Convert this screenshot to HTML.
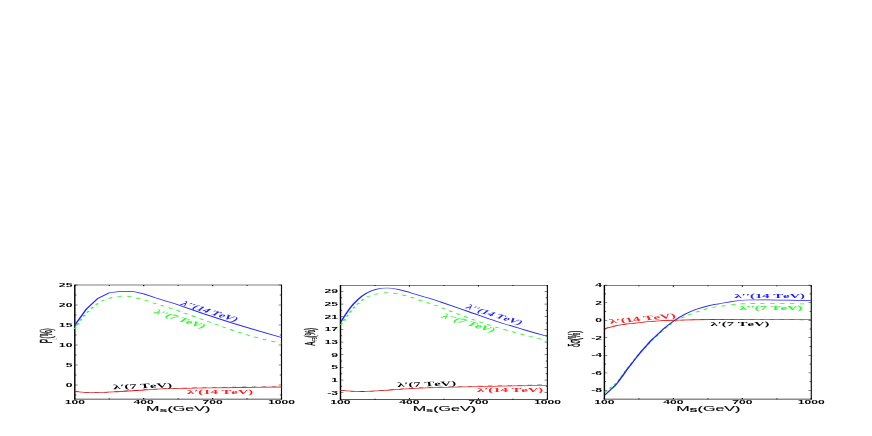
<!DOCTYPE html>
<html><head><meta charset="utf-8"><title>chart</title>
<style>
html,body{margin:0;padding:0;background:#fff;}
body{width:872px;height:436px;overflow:hidden;font-family:"Liberation Sans",sans-serif;}
svg{display:block;}
</style></head><body>
<svg width="872" height="436" viewBox="0 0 872 436">
<rect width="872" height="436" fill="#fff"/>
<defs><filter id="b" filterUnits="userSpaceOnUse" x="0" y="0" width="872" height="436"><feGaussianBlur stdDeviation="0.45"/></filter></defs><g filter="url(#b)"><g transform="scale(2.3,1)">
<line x1="32.52" y1="285.00" x2="122.39" y2="285.00" stroke="#000" stroke-width="0.55"/>
<line x1="32.52" y1="399.15" x2="122.39" y2="399.15" stroke="#1a1a1a" stroke-width="0.60"/>
<line x1="32.52" y1="284.70" x2="32.52" y2="399.70" stroke="#000" stroke-width="0.62"/>
<line x1="122.39" y1="284.70" x2="122.39" y2="399.70" stroke="#111" stroke-width="0.50"/>
<line x1="32.52" y1="285.00" x2="32.52" y2="286.30" stroke="#000" stroke-width="0.50"/>
<line x1="32.52" y1="399.30" x2="32.52" y2="398.00" stroke="#000" stroke-width="0.50"/>
<line x1="47.50" y1="285.00" x2="47.50" y2="285.80" stroke="#000" stroke-width="0.50"/>
<line x1="47.50" y1="399.30" x2="47.50" y2="398.50" stroke="#000" stroke-width="0.50"/>
<line x1="62.48" y1="285.00" x2="62.48" y2="286.30" stroke="#000" stroke-width="0.50"/>
<line x1="62.48" y1="399.30" x2="62.48" y2="398.00" stroke="#000" stroke-width="0.50"/>
<line x1="77.46" y1="285.00" x2="77.46" y2="285.80" stroke="#000" stroke-width="0.50"/>
<line x1="77.46" y1="399.30" x2="77.46" y2="398.50" stroke="#000" stroke-width="0.50"/>
<line x1="92.43" y1="285.00" x2="92.43" y2="286.30" stroke="#000" stroke-width="0.50"/>
<line x1="92.43" y1="399.30" x2="92.43" y2="398.00" stroke="#000" stroke-width="0.50"/>
<line x1="107.41" y1="285.00" x2="107.41" y2="285.80" stroke="#000" stroke-width="0.50"/>
<line x1="107.41" y1="399.30" x2="107.41" y2="398.50" stroke="#000" stroke-width="0.50"/>
<line x1="122.39" y1="285.00" x2="122.39" y2="286.30" stroke="#000" stroke-width="0.50"/>
<line x1="122.39" y1="399.30" x2="122.39" y2="398.00" stroke="#000" stroke-width="0.50"/>
<text transform="translate(32.52,403.90) scale(1.000,1.000) rotate(0.00)" style="font-kerning:none" text-anchor="middle" font-family="Liberation Sans" font-weight="bold" font-size="5.30" fill="#000">100</text>
<text transform="translate(62.48,403.90) scale(1.000,1.000) rotate(0.00)" style="font-kerning:none" text-anchor="middle" font-family="Liberation Sans" font-weight="bold" font-size="5.30" fill="#000">400</text>
<text transform="translate(92.43,403.90) scale(1.000,1.000) rotate(0.00)" style="font-kerning:none" text-anchor="middle" font-family="Liberation Sans" font-weight="bold" font-size="5.30" fill="#000">700</text>
<text transform="translate(122.39,403.90) scale(1.000,1.000) rotate(0.00)" style="font-kerning:none" text-anchor="middle" font-family="Liberation Sans" font-weight="bold" font-size="5.30" fill="#000">1000</text>
<line x1="32.52" y1="285.00" x2="33.78" y2="285.00" stroke="#000" stroke-width="0.45"/>
<line x1="122.39" y1="285.00" x2="121.13" y2="285.00" stroke="#000" stroke-width="0.45"/>
<text transform="translate(31.48,287.00) scale(1.000,1.000) rotate(0.00)" style="font-kerning:none" text-anchor="end" font-family="Liberation Sans" font-weight="bold" font-size="5.30" fill="#000">25</text>
<line x1="32.52" y1="305.00" x2="33.78" y2="305.00" stroke="#000" stroke-width="0.45"/>
<line x1="122.39" y1="305.00" x2="121.13" y2="305.00" stroke="#000" stroke-width="0.45"/>
<text transform="translate(31.48,307.00) scale(1.000,1.000) rotate(0.00)" style="font-kerning:none" text-anchor="end" font-family="Liberation Sans" font-weight="bold" font-size="5.30" fill="#000">20</text>
<line x1="32.52" y1="325.00" x2="33.78" y2="325.00" stroke="#000" stroke-width="0.45"/>
<line x1="122.39" y1="325.00" x2="121.13" y2="325.00" stroke="#000" stroke-width="0.45"/>
<text transform="translate(31.48,327.00) scale(1.000,1.000) rotate(0.00)" style="font-kerning:none" text-anchor="end" font-family="Liberation Sans" font-weight="bold" font-size="5.30" fill="#000">15</text>
<line x1="32.52" y1="345.00" x2="33.78" y2="345.00" stroke="#000" stroke-width="0.45"/>
<line x1="122.39" y1="345.00" x2="121.13" y2="345.00" stroke="#000" stroke-width="0.45"/>
<text transform="translate(31.48,347.00) scale(1.000,1.000) rotate(0.00)" style="font-kerning:none" text-anchor="end" font-family="Liberation Sans" font-weight="bold" font-size="5.30" fill="#000">10</text>
<line x1="32.52" y1="365.00" x2="33.78" y2="365.00" stroke="#000" stroke-width="0.45"/>
<line x1="122.39" y1="365.00" x2="121.13" y2="365.00" stroke="#000" stroke-width="0.45"/>
<text transform="translate(31.48,367.00) scale(1.000,1.000) rotate(0.00)" style="font-kerning:none" text-anchor="end" font-family="Liberation Sans" font-weight="bold" font-size="5.30" fill="#000">5</text>
<line x1="32.52" y1="385.00" x2="33.78" y2="385.00" stroke="#000" stroke-width="0.45"/>
<line x1="122.39" y1="385.00" x2="121.13" y2="385.00" stroke="#000" stroke-width="0.45"/>
<text transform="translate(31.48,387.00) scale(1.000,1.000) rotate(0.00)" style="font-kerning:none" text-anchor="end" font-family="Liberation Sans" font-weight="bold" font-size="5.30" fill="#000">0</text>
<line x1="32.52" y1="295.00" x2="33.26" y2="295.00" stroke="#000" stroke-width="0.40"/>
<line x1="122.39" y1="295.00" x2="121.65" y2="295.00" stroke="#000" stroke-width="0.40"/>
<line x1="32.52" y1="315.00" x2="33.26" y2="315.00" stroke="#000" stroke-width="0.40"/>
<line x1="122.39" y1="315.00" x2="121.65" y2="315.00" stroke="#000" stroke-width="0.40"/>
<line x1="32.52" y1="335.00" x2="33.26" y2="335.00" stroke="#000" stroke-width="0.40"/>
<line x1="122.39" y1="335.00" x2="121.65" y2="335.00" stroke="#000" stroke-width="0.40"/>
<line x1="32.52" y1="355.00" x2="33.26" y2="355.00" stroke="#000" stroke-width="0.40"/>
<line x1="122.39" y1="355.00" x2="121.65" y2="355.00" stroke="#000" stroke-width="0.40"/>
<line x1="32.52" y1="375.00" x2="33.26" y2="375.00" stroke="#000" stroke-width="0.40"/>
<line x1="122.39" y1="375.00" x2="121.65" y2="375.00" stroke="#000" stroke-width="0.40"/>
<line x1="32.52" y1="395.00" x2="33.26" y2="395.00" stroke="#000" stroke-width="0.40"/>
<line x1="122.39" y1="395.00" x2="121.65" y2="395.00" stroke="#000" stroke-width="0.40"/>
<path d="M32.52,329.00 C33.17,326.83 34.79,320.23 36.43,316.00 C38.08,311.77 40.50,306.58 42.39,303.60 C44.28,300.62 45.93,299.37 47.78,298.10 C49.63,296.83 51.78,296.12 53.48,296.00 C55.17,295.88 56.51,296.82 57.96,297.40 C59.41,297.98 60.57,298.47 62.17,299.50 C63.78,300.53 65.87,302.35 67.57,303.60 C69.26,304.85 70.72,305.83 72.35,307.00 C73.97,308.17 75.78,309.42 77.30,310.60 C78.83,311.78 78.99,312.03 81.48,314.10 C83.97,316.17 89.22,320.48 92.26,323.00 C95.30,325.52 97.25,327.25 99.74,329.20 C102.23,331.15 104.67,332.97 107.22,334.70 C109.76,336.43 112.47,338.18 115.00,339.60 C117.53,341.02 121.16,342.60 122.39,343.20" fill="none" stroke="#22ff22" stroke-width="0.78" stroke-dasharray="1.9 2.4"/>
<path d="M32.52,325.20 L37.52,309.10 L42.52,298.40 L47.52,292.70 L52.52,291.30 L57.52,291.30 L62.52,293.90 L67.57,297.80 L72.35,301.20 L76.09,303.80 L88.04,313.40 L100.00,322.40 L112.00,330.60 L122.39,337.50" fill="none" stroke="#2222ff" stroke-width="0.72"/>
<path d="M32.52,391.50 C34.07,391.70 38.53,392.70 41.83,392.70 C45.12,392.70 48.82,391.95 52.30,391.50 C55.79,391.05 59.14,390.47 62.74,390.00 C66.34,389.53 69.01,389.05 73.91,388.70 C78.82,388.35 84.09,388.18 92.17,387.90 C100.25,387.62 117.36,387.15 122.39,387.00" fill="none" stroke="#ff2020" stroke-width="0.80"/>
<path d="M32.52,391.50 C34.07,391.69 38.53,392.65 41.83,392.62 C45.12,392.59 48.82,391.81 52.30,391.33 C55.79,390.86 59.14,390.24 62.74,389.75 C66.34,389.25 69.01,388.75 73.91,388.35 C78.82,387.96 84.09,387.75 92.17,387.40 C100.25,387.05 117.36,386.44 122.39,386.25" fill="none" stroke="#000" stroke-width="0.50" stroke-dasharray="1.9 2.4" stroke-opacity="0.55"/>
<text transform="translate(78.04,304.40) scale(0.910,1.000) rotate(33.70)" style="font-kerning:none" text-anchor="start" font-family="Liberation Serif" font-weight="bold" font-size="6.60" fill="#2222ff">λ′′(14 TeV)</text>
<text transform="translate(66.26,313.00) scale(0.910,1.000) rotate(33.00)" style="font-kerning:none" text-anchor="start" font-family="Liberation Serif" font-weight="bold" font-size="6.60" fill="#22ff22">λ′′(7 TeV)</text>
<text transform="translate(49.35,389.20) scale(0.965,1.000) rotate(-4.20)" style="font-kerning:none" text-anchor="start" font-family="Liberation Serif" font-weight="bold" font-size="6.60" fill="#000">λ′(7 TeV)</text>
<text transform="translate(81.30,393.60) scale(0.965,1.000) rotate(0.00)" style="font-kerning:none" text-anchor="start" font-family="Liberation Serif" font-weight="bold" font-size="6.60" fill="#ff2020">λ′(14 TeV)</text>
<text transform="translate(77.48,411.20) scale(1.000,1.000) rotate(0.00)" style="font-kerning:none" text-anchor="middle" font-family="Liberation Sans" font-weight="normal" font-size="7.00" fill="#000" stroke="#000" stroke-width="0.12">M<tspan font-size="6.2" dy="1.0" font-weight="bold">s</tspan><tspan dy="-1.0">(GeV)</tspan></text>
<text transform="translate(22.61,343.30) scale(1.130,1.000) rotate(-90.00)" style="font-kerning:none" text-anchor="start" font-family="Liberation Sans" font-weight="normal" font-size="6.50" fill="#000" stroke="#000" stroke-width="0.18">P</text>
<text transform="translate(22.61,338.60) scale(1.100,1.000) rotate(-90.00)" style="font-kerning:none" text-anchor="start" font-family="Liberation Sans" font-weight="normal" font-size="6.70" fill="#000" stroke="#000" stroke-width="0.18">(%)</text>
<text transform="translate(24.61,339.80) scale(1.000,1.000) rotate(-90.00)" style="font-kerning:none" text-anchor="start" font-family="Liberation Sans" font-weight="normal" font-size="3.20" fill="#999">L</text>
<line x1="148.04" y1="285.30" x2="238.00" y2="285.30" stroke="#000" stroke-width="0.55"/>
<line x1="148.04" y1="399.35" x2="238.00" y2="399.35" stroke="#1a1a1a" stroke-width="0.60"/>
<line x1="148.04" y1="285.00" x2="148.04" y2="399.90" stroke="#000" stroke-width="0.62"/>
<line x1="238.00" y1="285.00" x2="238.00" y2="399.90" stroke="#111" stroke-width="0.50"/>
<line x1="148.04" y1="285.30" x2="148.04" y2="286.60" stroke="#000" stroke-width="0.50"/>
<line x1="148.04" y1="399.50" x2="148.04" y2="398.20" stroke="#000" stroke-width="0.50"/>
<line x1="163.04" y1="285.30" x2="163.04" y2="286.10" stroke="#000" stroke-width="0.50"/>
<line x1="163.04" y1="399.50" x2="163.04" y2="398.70" stroke="#000" stroke-width="0.50"/>
<line x1="178.03" y1="285.30" x2="178.03" y2="286.60" stroke="#000" stroke-width="0.50"/>
<line x1="178.03" y1="399.50" x2="178.03" y2="398.20" stroke="#000" stroke-width="0.50"/>
<line x1="193.02" y1="285.30" x2="193.02" y2="286.10" stroke="#000" stroke-width="0.50"/>
<line x1="193.02" y1="399.50" x2="193.02" y2="398.70" stroke="#000" stroke-width="0.50"/>
<line x1="208.01" y1="285.30" x2="208.01" y2="286.60" stroke="#000" stroke-width="0.50"/>
<line x1="208.01" y1="399.50" x2="208.01" y2="398.20" stroke="#000" stroke-width="0.50"/>
<line x1="223.01" y1="285.30" x2="223.01" y2="286.10" stroke="#000" stroke-width="0.50"/>
<line x1="223.01" y1="399.50" x2="223.01" y2="398.70" stroke="#000" stroke-width="0.50"/>
<line x1="238.00" y1="285.30" x2="238.00" y2="286.60" stroke="#000" stroke-width="0.50"/>
<line x1="238.00" y1="399.50" x2="238.00" y2="398.20" stroke="#000" stroke-width="0.50"/>
<text transform="translate(148.04,404.10) scale(1.000,1.000) rotate(0.00)" style="font-kerning:none" text-anchor="middle" font-family="Liberation Sans" font-weight="bold" font-size="5.30" fill="#000">100</text>
<text transform="translate(178.03,404.10) scale(1.000,1.000) rotate(0.00)" style="font-kerning:none" text-anchor="middle" font-family="Liberation Sans" font-weight="bold" font-size="5.30" fill="#000">400</text>
<text transform="translate(208.01,404.10) scale(1.000,1.000) rotate(0.00)" style="font-kerning:none" text-anchor="middle" font-family="Liberation Sans" font-weight="bold" font-size="5.30" fill="#000">700</text>
<text transform="translate(238.00,404.10) scale(1.000,1.000) rotate(0.00)" style="font-kerning:none" text-anchor="middle" font-family="Liberation Sans" font-weight="bold" font-size="5.30" fill="#000">1000</text>
<line x1="148.04" y1="291.40" x2="149.30" y2="291.40" stroke="#000" stroke-width="0.45"/>
<line x1="238.00" y1="291.40" x2="236.74" y2="291.40" stroke="#000" stroke-width="0.45"/>
<text transform="translate(147.00,293.40) scale(1.000,1.000) rotate(0.00)" style="font-kerning:none" text-anchor="end" font-family="Liberation Sans" font-weight="bold" font-size="5.30" fill="#000">29</text>
<line x1="148.04" y1="304.06" x2="149.30" y2="304.06" stroke="#000" stroke-width="0.45"/>
<line x1="238.00" y1="304.06" x2="236.74" y2="304.06" stroke="#000" stroke-width="0.45"/>
<text transform="translate(147.00,306.06) scale(1.000,1.000) rotate(0.00)" style="font-kerning:none" text-anchor="end" font-family="Liberation Sans" font-weight="bold" font-size="5.30" fill="#000">25</text>
<line x1="148.04" y1="316.72" x2="149.30" y2="316.72" stroke="#000" stroke-width="0.45"/>
<line x1="238.00" y1="316.72" x2="236.74" y2="316.72" stroke="#000" stroke-width="0.45"/>
<text transform="translate(147.00,318.72) scale(1.000,1.000) rotate(0.00)" style="font-kerning:none" text-anchor="end" font-family="Liberation Sans" font-weight="bold" font-size="5.30" fill="#000">21</text>
<line x1="148.04" y1="329.39" x2="149.30" y2="329.39" stroke="#000" stroke-width="0.45"/>
<line x1="238.00" y1="329.39" x2="236.74" y2="329.39" stroke="#000" stroke-width="0.45"/>
<text transform="translate(147.00,331.39) scale(1.000,1.000) rotate(0.00)" style="font-kerning:none" text-anchor="end" font-family="Liberation Sans" font-weight="bold" font-size="5.30" fill="#000">17</text>
<line x1="148.04" y1="342.05" x2="149.30" y2="342.05" stroke="#000" stroke-width="0.45"/>
<line x1="238.00" y1="342.05" x2="236.74" y2="342.05" stroke="#000" stroke-width="0.45"/>
<text transform="translate(147.00,344.05) scale(1.000,1.000) rotate(0.00)" style="font-kerning:none" text-anchor="end" font-family="Liberation Sans" font-weight="bold" font-size="5.30" fill="#000">13</text>
<line x1="148.04" y1="354.71" x2="149.30" y2="354.71" stroke="#000" stroke-width="0.45"/>
<line x1="238.00" y1="354.71" x2="236.74" y2="354.71" stroke="#000" stroke-width="0.45"/>
<text transform="translate(147.00,356.71) scale(1.000,1.000) rotate(0.00)" style="font-kerning:none" text-anchor="end" font-family="Liberation Sans" font-weight="bold" font-size="5.30" fill="#000">9</text>
<line x1="148.04" y1="367.38" x2="149.30" y2="367.38" stroke="#000" stroke-width="0.45"/>
<line x1="238.00" y1="367.38" x2="236.74" y2="367.38" stroke="#000" stroke-width="0.45"/>
<text transform="translate(147.00,369.38) scale(1.000,1.000) rotate(0.00)" style="font-kerning:none" text-anchor="end" font-family="Liberation Sans" font-weight="bold" font-size="5.30" fill="#000">5</text>
<line x1="148.04" y1="380.04" x2="149.30" y2="380.04" stroke="#000" stroke-width="0.45"/>
<line x1="238.00" y1="380.04" x2="236.74" y2="380.04" stroke="#000" stroke-width="0.45"/>
<text transform="translate(147.00,382.04) scale(1.000,1.000) rotate(0.00)" style="font-kerning:none" text-anchor="end" font-family="Liberation Sans" font-weight="bold" font-size="5.30" fill="#000">1</text>
<line x1="148.04" y1="392.70" x2="149.30" y2="392.70" stroke="#000" stroke-width="0.45"/>
<line x1="238.00" y1="392.70" x2="236.74" y2="392.70" stroke="#000" stroke-width="0.45"/>
<text transform="translate(147.00,394.70) scale(1.000,1.000) rotate(0.00)" style="font-kerning:none" text-anchor="end" font-family="Liberation Sans" font-weight="bold" font-size="5.30" fill="#000">-3</text>
<line x1="148.04" y1="297.73" x2="148.78" y2="297.73" stroke="#000" stroke-width="0.40"/>
<line x1="238.00" y1="297.73" x2="237.26" y2="297.73" stroke="#000" stroke-width="0.40"/>
<line x1="148.04" y1="310.39" x2="148.78" y2="310.39" stroke="#000" stroke-width="0.40"/>
<line x1="238.00" y1="310.39" x2="237.26" y2="310.39" stroke="#000" stroke-width="0.40"/>
<line x1="148.04" y1="323.06" x2="148.78" y2="323.06" stroke="#000" stroke-width="0.40"/>
<line x1="238.00" y1="323.06" x2="237.26" y2="323.06" stroke="#000" stroke-width="0.40"/>
<line x1="148.04" y1="335.72" x2="148.78" y2="335.72" stroke="#000" stroke-width="0.40"/>
<line x1="238.00" y1="335.72" x2="237.26" y2="335.72" stroke="#000" stroke-width="0.40"/>
<line x1="148.04" y1="348.38" x2="148.78" y2="348.38" stroke="#000" stroke-width="0.40"/>
<line x1="238.00" y1="348.38" x2="237.26" y2="348.38" stroke="#000" stroke-width="0.40"/>
<line x1="148.04" y1="361.04" x2="148.78" y2="361.04" stroke="#000" stroke-width="0.40"/>
<line x1="238.00" y1="361.04" x2="237.26" y2="361.04" stroke="#000" stroke-width="0.40"/>
<line x1="148.04" y1="373.71" x2="148.78" y2="373.71" stroke="#000" stroke-width="0.40"/>
<line x1="238.00" y1="373.71" x2="237.26" y2="373.71" stroke="#000" stroke-width="0.40"/>
<line x1="148.04" y1="386.37" x2="148.78" y2="386.37" stroke="#000" stroke-width="0.40"/>
<line x1="238.00" y1="386.37" x2="237.26" y2="386.37" stroke="#000" stroke-width="0.40"/>
<path d="M148.17,324.90 C148.83,322.83 150.84,316.05 152.09,312.50 C153.33,308.95 154.46,306.12 155.65,303.60 C156.85,301.08 158.07,298.93 159.26,297.40 C160.46,295.87 161.33,295.20 162.83,294.40 C164.33,293.60 166.56,292.67 168.26,292.60 C169.96,292.53 171.45,293.32 173.04,294.00 C174.64,294.68 176.13,295.57 177.83,296.70 C179.52,297.83 181.52,299.53 183.22,300.80 C184.91,302.07 186.58,303.17 188.00,304.30 C189.42,305.43 189.12,305.32 191.74,307.60 C194.36,309.88 199.70,314.73 203.70,318.00 C207.69,321.27 211.70,324.42 215.70,327.20 C219.69,329.98 223.96,332.45 227.65,334.70 C231.34,336.95 236.13,339.70 237.83,340.70" fill="none" stroke="#22ff22" stroke-width="0.78" stroke-dasharray="1.9 2.4"/>
<path d="M148.17,321.90 C148.83,319.65 150.84,312.13 152.09,308.40 C153.33,304.67 154.46,302.02 155.65,299.50 C156.85,296.98 157.96,294.98 159.26,293.30 C160.56,291.62 161.94,290.28 163.43,289.40 C164.93,288.52 166.62,288.00 168.22,288.00 C169.82,288.00 171.44,288.70 173.04,289.40 C174.64,290.10 176.13,291.10 177.83,292.20 C179.52,293.30 181.52,294.83 183.22,296.00 C184.91,297.17 186.58,298.18 188.00,299.20 C189.42,300.22 189.12,300.03 191.74,302.10 C194.36,304.17 199.70,308.42 203.70,311.60 C207.69,314.78 211.70,318.20 215.70,321.20 C219.69,324.20 223.96,327.08 227.65,329.60 C231.34,332.12 236.13,335.18 237.83,336.30" fill="none" stroke="#2222ff" stroke-width="0.72"/>
<path d="M148.04,390.30 C149.67,390.50 154.22,391.55 157.83,391.50 C161.43,391.45 165.98,390.53 169.70,390.00 C173.41,389.47 176.53,388.75 180.13,388.30 C183.73,387.85 185.82,387.63 191.30,387.30 C196.79,386.97 205.25,386.62 213.04,386.30 C220.83,385.98 233.88,385.55 238.04,385.40" fill="none" stroke="#ff2020" stroke-width="0.80"/>
<path d="M148.04,390.30 C149.67,390.49 154.22,391.50 157.83,391.42 C161.43,391.34 165.98,390.38 169.70,389.82 C173.41,389.26 176.53,388.51 180.13,388.03 C183.73,387.55 185.82,387.32 191.30,386.94 C196.79,386.56 205.25,386.14 213.04,385.76 C220.83,385.38 233.88,384.83 238.04,384.65" fill="none" stroke="#000" stroke-width="0.50" stroke-dasharray="1.9 2.4" stroke-opacity="0.55"/>
<text transform="translate(201.96,308.00) scale(0.890,1.000) rotate(32.50)" style="font-kerning:none" text-anchor="start" font-family="Liberation Serif" font-weight="bold" font-size="6.60" fill="#2222ff">λ′′(14 TeV)</text>
<text transform="translate(191.30,317.20) scale(0.940,1.000) rotate(32.50)" style="font-kerning:none" text-anchor="start" font-family="Liberation Serif" font-weight="bold" font-size="6.60" fill="#22ff22">λ′′(7 TeV)</text>
<text transform="translate(172.83,387.10) scale(0.965,1.000) rotate(-3.50)" style="font-kerning:none" text-anchor="start" font-family="Liberation Serif" font-weight="bold" font-size="6.60" fill="#000">λ′(7 TeV)</text>
<text transform="translate(207.39,392.00) scale(0.965,1.000) rotate(0.00)" style="font-kerning:none" text-anchor="start" font-family="Liberation Serif" font-weight="bold" font-size="6.60" fill="#ff2020">λ′(14 TeV)</text>
<text transform="translate(193.22,411.20) scale(1.000,1.000) rotate(0.00)" style="font-kerning:none" text-anchor="middle" font-family="Liberation Sans" font-weight="normal" font-size="7.00" fill="#000" stroke="#000" stroke-width="0.12">M<tspan font-size="5.6" dy="0.3" font-weight="bold">s</tspan><tspan dy="-0.3">(GeV)</tspan></text>
<text transform="translate(137.17,345.70) scale(1.000,1.000) rotate(-90.00)" style="font-kerning:none" text-anchor="start" font-family="Liberation Sans" font-weight="normal" font-size="6.30" fill="#000" stroke="#000" stroke-width="0.18">A</text>
<text transform="translate(138.00,340.90) scale(1.000,1.000) rotate(-90.00)" style="font-kerning:none" text-anchor="start" font-family="Liberation Sans" font-weight="bold" font-size="2.90" fill="#222">FB</text>
<text transform="translate(137.09,337.40) scale(1.100,1.000) rotate(-90.00)" style="font-kerning:none" text-anchor="start" font-family="Liberation Sans" font-weight="normal" font-size="6.00" fill="#000" stroke="#000" stroke-width="0.15">(%)</text>
<line x1="262.78" y1="285.50" x2="352.74" y2="285.50" stroke="#000" stroke-width="0.70"/>
<line x1="262.78" y1="399.15" x2="352.74" y2="399.15" stroke="#1a1a1a" stroke-width="0.60"/>
<line x1="262.78" y1="285.20" x2="262.78" y2="399.70" stroke="#000" stroke-width="0.62"/>
<line x1="352.74" y1="285.20" x2="352.74" y2="399.70" stroke="#111" stroke-width="0.50"/>
<line x1="262.78" y1="285.50" x2="262.78" y2="286.80" stroke="#000" stroke-width="0.50"/>
<line x1="262.78" y1="399.30" x2="262.78" y2="398.00" stroke="#000" stroke-width="0.50"/>
<line x1="277.78" y1="285.50" x2="277.78" y2="286.30" stroke="#000" stroke-width="0.50"/>
<line x1="277.78" y1="399.30" x2="277.78" y2="398.50" stroke="#000" stroke-width="0.50"/>
<line x1="292.77" y1="285.50" x2="292.77" y2="286.80" stroke="#000" stroke-width="0.50"/>
<line x1="292.77" y1="399.30" x2="292.77" y2="398.00" stroke="#000" stroke-width="0.50"/>
<line x1="307.76" y1="285.50" x2="307.76" y2="286.30" stroke="#000" stroke-width="0.50"/>
<line x1="307.76" y1="399.30" x2="307.76" y2="398.50" stroke="#000" stroke-width="0.50"/>
<line x1="322.75" y1="285.50" x2="322.75" y2="286.80" stroke="#000" stroke-width="0.50"/>
<line x1="322.75" y1="399.30" x2="322.75" y2="398.00" stroke="#000" stroke-width="0.50"/>
<line x1="337.75" y1="285.50" x2="337.75" y2="286.30" stroke="#000" stroke-width="0.50"/>
<line x1="337.75" y1="399.30" x2="337.75" y2="398.50" stroke="#000" stroke-width="0.50"/>
<line x1="352.74" y1="285.50" x2="352.74" y2="286.80" stroke="#000" stroke-width="0.50"/>
<line x1="352.74" y1="399.30" x2="352.74" y2="398.00" stroke="#000" stroke-width="0.50"/>
<text transform="translate(262.78,403.90) scale(1.000,1.000) rotate(0.00)" style="font-kerning:none" text-anchor="middle" font-family="Liberation Sans" font-weight="bold" font-size="5.30" fill="#000">100</text>
<text transform="translate(292.77,403.90) scale(1.000,1.000) rotate(0.00)" style="font-kerning:none" text-anchor="middle" font-family="Liberation Sans" font-weight="bold" font-size="5.30" fill="#000">400</text>
<text transform="translate(322.75,403.90) scale(1.000,1.000) rotate(0.00)" style="font-kerning:none" text-anchor="middle" font-family="Liberation Sans" font-weight="bold" font-size="5.30" fill="#000">700</text>
<text transform="translate(352.74,403.90) scale(1.000,1.000) rotate(0.00)" style="font-kerning:none" text-anchor="middle" font-family="Liberation Sans" font-weight="bold" font-size="5.30" fill="#000">1000</text>
<line x1="262.78" y1="285.10" x2="264.04" y2="285.10" stroke="#000" stroke-width="0.45"/>
<line x1="352.74" y1="285.10" x2="351.48" y2="285.10" stroke="#000" stroke-width="0.45"/>
<text transform="translate(261.74,287.10) scale(1.000,1.000) rotate(0.00)" style="font-kerning:none" text-anchor="end" font-family="Liberation Sans" font-weight="bold" font-size="5.30" fill="#000">4</text>
<line x1="262.78" y1="302.66" x2="264.04" y2="302.66" stroke="#000" stroke-width="0.45"/>
<line x1="352.74" y1="302.66" x2="351.48" y2="302.66" stroke="#000" stroke-width="0.45"/>
<text transform="translate(261.74,304.66) scale(1.000,1.000) rotate(0.00)" style="font-kerning:none" text-anchor="end" font-family="Liberation Sans" font-weight="bold" font-size="5.30" fill="#000">2</text>
<line x1="262.78" y1="320.22" x2="264.04" y2="320.22" stroke="#000" stroke-width="0.45"/>
<line x1="352.74" y1="320.22" x2="351.48" y2="320.22" stroke="#000" stroke-width="0.45"/>
<text transform="translate(261.74,322.22) scale(1.000,1.000) rotate(0.00)" style="font-kerning:none" text-anchor="end" font-family="Liberation Sans" font-weight="bold" font-size="5.30" fill="#000">0</text>
<line x1="262.78" y1="337.78" x2="264.04" y2="337.78" stroke="#000" stroke-width="0.45"/>
<line x1="352.74" y1="337.78" x2="351.48" y2="337.78" stroke="#000" stroke-width="0.45"/>
<text transform="translate(261.74,339.78) scale(1.000,1.000) rotate(0.00)" style="font-kerning:none" text-anchor="end" font-family="Liberation Sans" font-weight="bold" font-size="5.30" fill="#000">-2</text>
<line x1="262.78" y1="355.34" x2="264.04" y2="355.34" stroke="#000" stroke-width="0.45"/>
<line x1="352.74" y1="355.34" x2="351.48" y2="355.34" stroke="#000" stroke-width="0.45"/>
<text transform="translate(261.74,357.34) scale(1.000,1.000) rotate(0.00)" style="font-kerning:none" text-anchor="end" font-family="Liberation Sans" font-weight="bold" font-size="5.30" fill="#000">-4</text>
<line x1="262.78" y1="372.90" x2="264.04" y2="372.90" stroke="#000" stroke-width="0.45"/>
<line x1="352.74" y1="372.90" x2="351.48" y2="372.90" stroke="#000" stroke-width="0.45"/>
<text transform="translate(261.74,374.90) scale(1.000,1.000) rotate(0.00)" style="font-kerning:none" text-anchor="end" font-family="Liberation Sans" font-weight="bold" font-size="5.30" fill="#000">-6</text>
<line x1="262.78" y1="390.46" x2="264.04" y2="390.46" stroke="#000" stroke-width="0.45"/>
<line x1="352.74" y1="390.46" x2="351.48" y2="390.46" stroke="#000" stroke-width="0.45"/>
<text transform="translate(261.74,392.46) scale(1.000,1.000) rotate(0.00)" style="font-kerning:none" text-anchor="end" font-family="Liberation Sans" font-weight="bold" font-size="5.30" fill="#000">-8</text>
<line x1="262.78" y1="293.88" x2="263.52" y2="293.88" stroke="#000" stroke-width="0.40"/>
<line x1="352.74" y1="293.88" x2="352.00" y2="293.88" stroke="#000" stroke-width="0.40"/>
<line x1="262.78" y1="311.44" x2="263.52" y2="311.44" stroke="#000" stroke-width="0.40"/>
<line x1="352.74" y1="311.44" x2="352.00" y2="311.44" stroke="#000" stroke-width="0.40"/>
<line x1="262.78" y1="329.00" x2="263.52" y2="329.00" stroke="#000" stroke-width="0.40"/>
<line x1="352.74" y1="329.00" x2="352.00" y2="329.00" stroke="#000" stroke-width="0.40"/>
<line x1="262.78" y1="346.56" x2="263.52" y2="346.56" stroke="#000" stroke-width="0.40"/>
<line x1="352.74" y1="346.56" x2="352.00" y2="346.56" stroke="#000" stroke-width="0.40"/>
<line x1="262.78" y1="364.12" x2="263.52" y2="364.12" stroke="#000" stroke-width="0.40"/>
<line x1="352.74" y1="364.12" x2="352.00" y2="364.12" stroke="#000" stroke-width="0.40"/>
<line x1="262.78" y1="381.68" x2="263.52" y2="381.68" stroke="#000" stroke-width="0.40"/>
<line x1="352.74" y1="381.68" x2="352.00" y2="381.68" stroke="#000" stroke-width="0.40"/>
<path d="M262.96,392.30 C263.26,391.75 264.15,390.17 264.78,389.00 C265.41,387.83 266.09,386.60 266.74,385.30 C267.39,384.00 268.08,382.77 268.70,381.20 C269.31,379.63 269.76,378.00 270.43,375.90 C271.11,373.80 271.91,371.13 272.74,368.60 C273.57,366.07 274.52,363.32 275.43,360.70 C276.35,358.08 277.31,355.27 278.22,352.90 C279.12,350.53 279.98,348.65 280.87,346.50 C281.76,344.35 282.85,341.62 283.57,340.00 C284.28,338.38 284.20,338.82 285.17,336.80 C286.14,334.78 288.01,330.47 289.39,327.90 C290.78,325.33 292.25,323.13 293.48,321.40 C294.71,319.67 295.23,319.07 296.78,317.50 C298.33,315.93 300.80,313.60 302.78,312.00 C304.77,310.40 307.07,308.80 308.70,307.90 C310.32,307.00 310.89,307.13 312.52,306.60 C314.15,306.07 316.49,305.18 318.48,304.70 C320.47,304.22 321.49,303.92 324.48,303.70 C327.47,303.48 331.75,303.35 336.43,303.40 C341.12,303.45 349.91,303.90 352.61,304.00" fill="none" stroke="#22ff22" stroke-width="0.78" stroke-dasharray="1.9 2.4"/>
<path d="M262.96,395.10 C263.38,394.20 264.70,391.38 265.48,389.70 C266.26,388.02 267.16,386.12 267.65,385.00 C268.14,383.88 267.97,384.40 268.43,383.00 C268.90,381.60 269.70,378.95 270.43,376.60 C271.17,374.25 271.98,371.50 272.83,368.90 C273.67,366.30 274.62,363.63 275.52,361.00 C276.42,358.37 277.35,355.52 278.22,353.10 C279.09,350.68 279.89,348.68 280.74,346.50 C281.59,344.32 282.62,341.62 283.30,340.00 C283.99,338.38 283.88,338.82 284.83,336.80 C285.78,334.78 287.61,330.60 289.00,327.90 C290.39,325.20 291.67,322.90 293.17,320.60 C294.67,318.30 296.40,315.98 298.00,314.10 C299.60,312.22 301.00,310.75 302.78,309.30 C304.57,307.85 307.07,306.30 308.70,305.40 C310.32,304.50 310.89,304.58 312.52,303.90 C314.15,303.22 316.49,301.95 318.48,301.30 C320.47,300.65 321.98,300.25 324.48,300.00 C326.98,299.75 330.49,299.78 333.48,299.80 C336.47,299.82 339.25,299.97 342.43,300.10 C345.62,300.23 350.91,300.52 352.61,300.60" fill="none" stroke="#2222ff" stroke-width="0.74"/>
<path d="M262.96,328.50 C264.10,327.90 267.18,325.93 269.83,324.90 C272.47,323.87 275.83,323.00 278.83,322.30 C281.83,321.60 285.43,321.05 287.83,320.70 C290.22,320.35 289.70,320.40 293.17,320.20 C296.65,320.00 298.79,319.63 308.70,319.50 C318.60,319.37 345.29,319.42 352.61,319.40" fill="none" stroke="#ff2020" stroke-width="0.80"/>
<path d="M262.96,328.50 C264.10,327.91 267.18,325.96 269.83,324.94 C272.47,323.92 275.83,323.07 278.83,322.39 C281.83,321.71 285.43,321.18 287.83,320.84 C290.22,320.50 289.70,320.55 293.17,320.37 C296.65,320.19 298.79,319.83 308.70,319.76 C318.60,319.68 345.29,319.88 352.61,319.90" fill="none" stroke="#000" stroke-width="0.50" stroke-dasharray="1.9 2.4" stroke-opacity="0.4"/>
<text transform="translate(265.43,323.80) scale(0.980,1.000) rotate(-12.00)" style="font-kerning:none" text-anchor="start" font-family="Liberation Serif" font-weight="bold" font-size="6.60" fill="#ff2020">λ′(14 TeV)</text>
<text transform="translate(319.39,298.20) scale(0.965,1.000) rotate(0.00)" style="font-kerning:none" text-anchor="start" font-family="Liberation Serif" font-weight="bold" font-size="6.60" fill="#2222ff">λ′′(14 TeV)</text>
<text transform="translate(321.48,310.30) scale(0.965,1.000) rotate(0.00)" style="font-kerning:none" text-anchor="start" font-family="Liberation Serif" font-weight="bold" font-size="6.60" fill="#22ff22">λ′′(7 TeV)</text>
<text transform="translate(308.91,325.90) scale(0.965,1.000) rotate(0.00)" style="font-kerning:none" text-anchor="start" font-family="Liberation Serif" font-weight="bold" font-size="6.60" fill="#000">λ′(7 TeV)</text>
<text transform="translate(307.96,411.20) scale(1.000,1.000) rotate(0.00)" style="font-kerning:none" text-anchor="middle" font-family="Liberation Sans" font-weight="normal" font-size="7.00" fill="#000" stroke="#000" stroke-width="0.12">M<tspan font-size="5.2" dy="0.9" font-weight="bold">S</tspan><tspan dy="-0.9">(GeV)</tspan></text>
<text transform="translate(252.35,346.80) scale(1.180,1.000) rotate(-90.00)" style="font-kerning:none" text-anchor="start" font-family="Liberation Sans" font-weight="normal" font-size="5.90" fill="#000" stroke="#000" stroke-width="0.15">δσ(%)</text>
</g></g>
</svg>
</body></html>
